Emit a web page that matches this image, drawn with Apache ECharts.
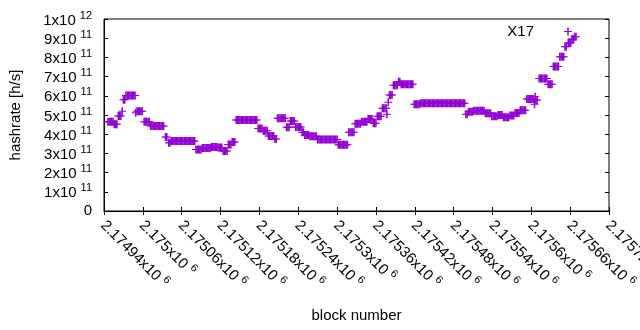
<!DOCTYPE html>
<html>
<head>
<meta charset="utf-8">
<script src="https://cdn.jsdelivr.net/npm/echarts@6/dist/echarts.min.js"></script>
<style>
  html, body { margin: 0; padding: 0; background: #fff; }
  #chart { width: 640px; height: 330px; }
</style>
</head>
<body>
<div id="chart"></div>
<script>
  // block numbers are stored as offsets from BLOCK_BASE, hashrate in units of 1e11 h/s
  var BLOCK_BASE = 2174940;
  var xMin = 2174940, xMax = 2175720, xStep = 60;
  var yMin = 0, yMax = 1e12, yStep = 1e11;
  var seriesName = 'X17';

  var blockOffset = [
    6, 8, 10, 12, 14,
    16, 18, 20,
    22, 24, 26,
    28,
    30, 32,
    34, 36, 38, 40, 42, 44, 46, 48,
    49,
    51, 53, 55, 57, 59,
    62, 64, 66, 68, 70,
    72, 74, 76, 78, 80, 82, 84, 86, 88, 90, 92,
    95, 97,
    100, 102,
    104, 106, 108, 110, 112, 114, 116, 118, 120, 122, 124, 126, 128, 130, 132, 134, 136, 138, 140,
    142, 144, 146, 148, 150,
    152, 154, 156, 158, 160, 162, 164,
    166, 168, 170, 172, 174,
    176, 178, 180, 182,
    184, 186, 188, 190,
    192, 194, 196,
    198, 200, 202,
    204, 206, 208, 210, 212, 214, 216, 218, 220, 222, 224, 226, 228, 230, 232, 234, 236,
    238, 240, 242, 244,
    246, 248, 250, 252,
    254, 256, 258, 260, 262,
    264, 266,
    268, 270, 272, 274, 276, 278, 280,
    282, 284, 286,
    288, 290, 292, 294,
    296, 298, 300, 302, 304,
    306, 308,
    310, 312, 314, 316,
    318, 320, 322, 324, 326, 328,
    330, 332, 334, 336, 338, 340, 342, 344, 346, 348, 350, 352, 354, 356, 358, 360,
    362, 364, 366, 368, 370, 372, 374, 376,
    378, 380, 382, 384, 386,
    388, 390, 392, 394, 396,
    398, 400, 402, 404, 406,
    408, 410, 412, 414,
    416, 418, 420,
    422, 424, 426, 428,
    430, 432, 434, 436,
    437,
    439,
    441, 443, 445,
    447, 449, 451, 453,
    455, 457,
    459, 461, 463, 465, 467, 469, 471, 473, 475, 477,
    479, 481, 483, 485, 487,
    489, 491, 493, 495, 497, 499, 501, 503, 505, 507, 509, 511, 513, 515, 517, 519, 521, 523,
    525, 527, 529, 531, 533, 535, 537, 539, 541, 543, 545, 547, 549, 551, 553, 555, 557,
    559, 561,
    563, 565, 567, 569,
    571, 573, 575, 577, 579, 581, 583, 585, 587,
    589, 591, 593, 595, 597,
    599, 601, 603, 605, 607,
    609, 611, 613, 615,
    617, 619, 621, 623, 625,
    627, 629, 631, 633,
    635, 637, 639, 641,
    643, 645, 647, 649, 651,
    653, 655, 657, 659, 661, 663,
    665,
    666,
    667, 669,
    672, 674, 676, 678, 680, 682, 684,
    686, 688, 690, 692,
    694, 696, 698, 700, 702,
    704, 706, 708, 710,
    712, 714,
    717, 719, 721,
    723, 725,
    727, 729
  ];

  var hashrate = [
    4.65, 4.65, 4.65, 4.65, 4.65,
    4.52, 4.52, 4.52,
    4.95, 4.95, 4.95,
    5.2,
    5.8, 5.8,
    6.02, 6.02, 6.02, 6.02, 6.02, 6.02, 6.02, 6.02,
    5.12,
    5.2, 5.2, 5.2, 5.2, 5.2,
    4.65, 4.65, 4.65, 4.65, 4.65,
    4.43, 4.43, 4.43, 4.43, 4.43, 4.43, 4.43, 4.43, 4.43, 4.43, 4.43,
    3.85, 3.85,
    3.56, 3.56,
    3.64, 3.64, 3.64, 3.64, 3.64, 3.64, 3.64, 3.64, 3.64, 3.64, 3.64, 3.64, 3.64, 3.64, 3.64, 3.64, 3.64, 3.64, 3.64,
    3.2, 3.2, 3.2, 3.2, 3.2,
    3.28, 3.28, 3.28, 3.28, 3.28, 3.28, 3.28,
    3.33, 3.33, 3.33, 3.33, 3.33,
    3.31, 3.31, 3.31, 3.31,
    3.12, 3.12, 3.12, 3.12,
    3.47, 3.47, 3.47,
    3.6, 3.6, 3.6,
    4.74, 4.74, 4.74, 4.74, 4.74, 4.74, 4.74, 4.74, 4.74, 4.74, 4.74, 4.74, 4.74, 4.74, 4.74, 4.74, 4.74,
    4.3, 4.3, 4.3, 4.3,
    4.18, 4.18, 4.18, 4.18,
    3.9, 3.9, 3.9, 3.9, 3.9,
    3.75, 3.75,
    4.83, 4.83, 4.83, 4.83, 4.83, 4.83, 4.83,
    4.36, 4.36, 4.36,
    4.69, 4.69, 4.69, 4.69,
    4.38, 4.38, 4.38, 4.38, 4.38,
    4.1, 4.1,
    3.96, 3.96, 3.96, 3.96,
    3.89, 3.89, 3.89, 3.89, 3.89, 3.89,
    3.73, 3.73, 3.73, 3.73, 3.73, 3.73, 3.73, 3.73, 3.73, 3.73, 3.73, 3.73, 3.73, 3.73, 3.73, 3.73,
    3.45, 3.45, 3.45, 3.45, 3.45, 3.45, 3.45, 3.45,
    4.1, 4.1, 4.1, 4.1, 4.1,
    4.55, 4.55, 4.55, 4.55, 4.55,
    4.65, 4.65, 4.65, 4.65, 4.65,
    4.79, 4.79, 4.79, 4.79,
    4.57, 4.57, 4.57,
    4.93, 4.93, 4.93, 4.93,
    5.35, 5.35, 5.35, 5.35,
    5.04,
    5.66,
    6.04, 6.04, 6.04,
    6.55, 6.55, 6.55, 6.55,
    6.73, 6.73,
    6.6, 6.6, 6.6, 6.6, 6.6, 6.6, 6.6, 6.6, 6.6, 6.6,
    5.56, 5.56, 5.56, 5.56, 5.56,
    5.61, 5.61, 5.61, 5.61, 5.61, 5.61, 5.61, 5.61, 5.61, 5.61, 5.61, 5.61, 5.61, 5.61, 5.61, 5.61, 5.61, 5.61,
    5.61, 5.61, 5.61, 5.61, 5.61, 5.61, 5.61, 5.61, 5.61, 5.61, 5.61, 5.61, 5.61, 5.61, 5.61, 5.61, 5.61,
    5.04, 5.04,
    5.17, 5.17, 5.17, 5.17,
    5.22, 5.22, 5.22, 5.22, 5.22, 5.22, 5.22, 5.22, 5.22,
    5.09, 5.09, 5.09, 5.09, 5.09,
    4.93, 4.93, 4.93, 4.93, 4.93,
    5.0, 5.0, 5.0, 5.0,
    4.88, 4.88, 4.88, 4.88, 4.88,
    4.98, 4.98, 4.98, 4.98,
    5.1, 5.1, 5.1, 5.1,
    5.25, 5.25, 5.25, 5.25, 5.25,
    5.83, 5.83, 5.83, 5.83, 5.83, 5.83,
    5.56,
    5.95,
    5.78, 5.78,
    6.9, 6.9, 6.9, 6.9, 6.9, 6.9, 6.9,
    6.6, 6.6, 6.6, 6.6,
    7.52, 7.52, 7.52, 7.52, 7.52,
    8.04, 8.04, 8.04, 8.04,
    8.56, 8.56,
    8.75, 8.75, 8.75,
    8.96, 8.96,
    9.08, 9.08
  ];

  var FONT = 'Liberation Sans';
  var PURPLE = '#9400d3';
  // gnuplot style '+' point (vertical arm a bit wider so runs of points fill in)
  var PLUS = 'path://M0,3.5L8,3.5L8,4.5L0,4.5Z M3.25,0L4.75,0L4.75,8L3.25,8Z';

  function sciLabel(v) {
    if (v === 0) return '{b|0}';
    var e = Math.floor(Math.log10(v) + 1e-9);
    var m = parseFloat((v / Math.pow(10, e)).toFixed(5));
    return '{b|' + m + 'x10}{s|' + e + '}';
  }

  var points = blockOffset.map(function (o, i) {
    return [BLOCK_BASE + o, hashrate[i] * 1e11];
  });

  var labelRich = {
    b: {fontSize: 15, fontFamily: FONT, color: '#000', verticalAlign: 'bottom'},
    s: {fontSize: 11, fontFamily: FONT, color: '#000', verticalAlign: 'bottom', padding: [0, 0, 7, 4]}
  };

  var myChart = echarts.init(document.getElementById('chart'));
  var option = {
    animation: false,
    backgroundColor: '#fff',
    grid: {
      left: 104, right: 31, top: 19, bottom: 119,
      outerBoundsMode: 'none',
      show: true, borderColor: '#000', borderWidth: 1, backgroundColor: 'transparent'
    },
    legend: {
      data: [seriesName],
      right: 68,
      top: 24,
      padding: 0,
      align: 'right',
      itemWidth: 58,
      itemHeight: 8,
      symbolKeepAspect: true,
      textStyle: {fontSize: 15, fontFamily: FONT, color: '#000'}
    },
    xAxis: [{
      type: 'value',
      min: xMin, max: xMax, interval: xStep,
      name: 'block number',
      nameLocation: 'middle',
      nameGap: 97,
      nameTextStyle: {fontSize: 15, fontFamily: FONT, color: '#000'},
      axisLine: {show: true, lineStyle: {color: '#000'}},
      axisTick: {inside: true, length: 4, lineStyle: {color: '#000'}},
      splitLine: {show: false},
      axisLabel: {
        rotate: -45,
        margin: 11,
        formatter: sciLabel,
        rich: labelRich
      }
    }, {
      type: 'value',
      position: 'top',
      min: xMin, max: xMax, interval: xStep,
      axisLine: {show: false},
      axisTick: {inside: true, length: 4, lineStyle: {color: '#000'}},
      axisLabel: {show: false},
      splitLine: {show: false}
    }],
    yAxis: [{
      type: 'value',
      min: yMin, max: yMax, interval: yStep,
      name: 'hashrate [h/s]',
      nameLocation: 'middle',
      nameGap: 81,
      nameTextStyle: {fontSize: 15, fontFamily: FONT, color: '#000'},
      axisLine: {show: true, lineStyle: {color: '#000'}},
      axisTick: {inside: true, length: 4, lineStyle: {color: '#000'}},
      splitLine: {show: false},
      axisLabel: {
        margin: 12,
        formatter: sciLabel,
        rich: labelRich
      }
    }, {
      type: 'value',
      position: 'right',
      min: yMin, max: yMax, interval: yStep,
      axisLine: {show: false},
      axisTick: {inside: true, length: 4, lineStyle: {color: '#000'}},
      axisLabel: {show: false},
      splitLine: {show: false}
    }],
    series: [{
      name: seriesName,
      type: 'scatter',
      symbol: PLUS,
      symbolSize: 8,
      itemStyle: {color: PURPLE, opacity: 1},
      data: points
    }]
  };
  myChart.setOption(option);
</script>
</body>
</html>
